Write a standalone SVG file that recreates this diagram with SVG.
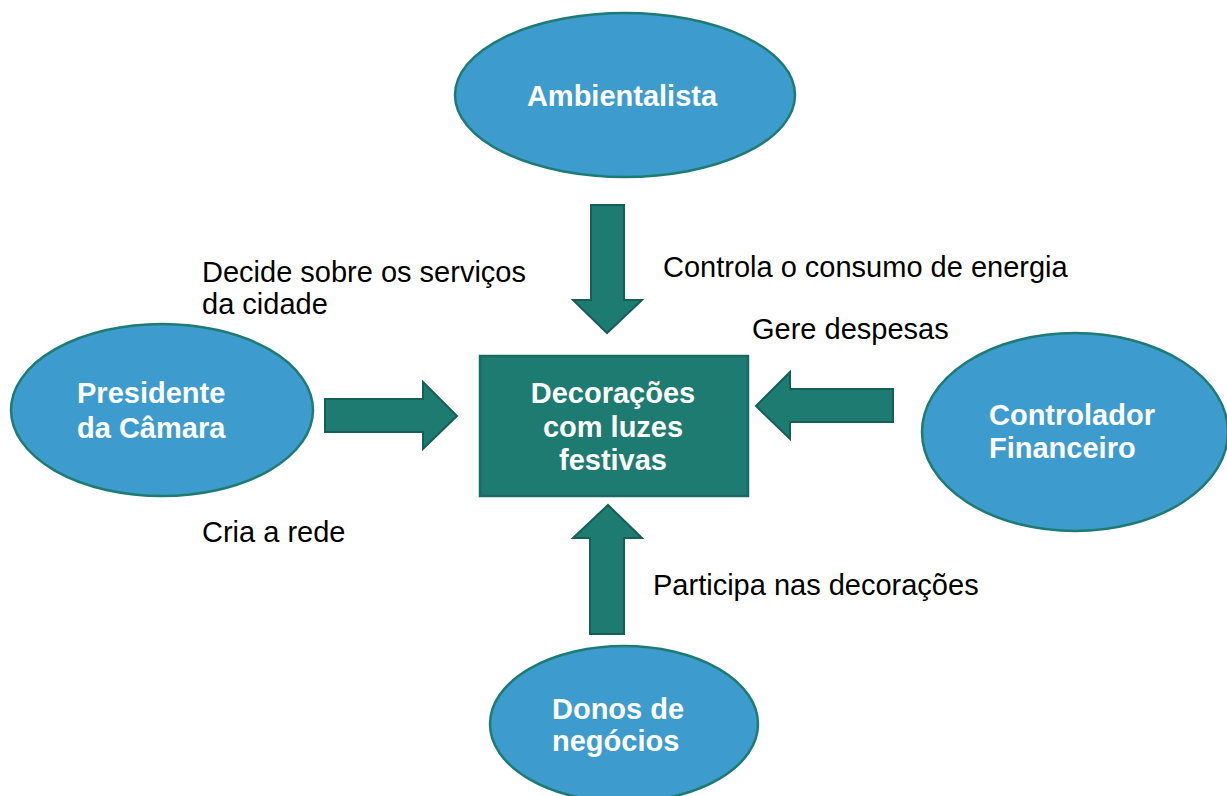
<svg xmlns="http://www.w3.org/2000/svg" width="1227" height="796" viewBox="0 0 1227 796">
<style>
.node{fill:#3D9CCD;stroke:#1E7B72;stroke-width:2.5}
.box{fill:#1E7B72;stroke:#196A61;stroke-width:2.5}
.arr{fill:#1E7B72;stroke:#175E57;stroke-width:2}
.nt{font-family:"Liberation Sans",Arial,sans-serif;font-size:29px;font-weight:bold;fill:#FFFFFF}
.lb{font-family:"Liberation Sans",Arial,sans-serif;font-size:29px;fill:#000000}
</style>
<rect width="1227" height="796" fill="#FFFFFF"/>
<g id="connectors">
<polygon class="arr" points="591,205 624,205 624,300 642,300 607,333 573,300 591,300"/>
<polygon class="arr" points="325,399 423,399 423,382 457,416 423,449 423,432 325,432"/>
<polygon class="arr" points="893,389 790,389 790,372 756,406 790,439 790,422 893,422"/>
<polygon class="arr" points="590,634 624,634 624,538 642,538 608,505 573,538 590,538"/>
</g>
<g id="labels">
<text class="lb" x="202" y="282">Decide sobre os serviços</text>
<text class="lb" x="202" y="314">da cidade</text>
<text class="lb" x="663" y="277">Controla o consumo de energia</text>
<text class="lb" x="752" y="339">Gere despesas</text>
<text class="lb" x="202" y="542">Cria a rede</text>
<text class="lb" x="653" y="595">Participa nas decorações</text>
</g>
<g id="ambientalista">
<ellipse class="node" cx="625" cy="95" rx="170" ry="82"/>
<text class="nt" x="622" y="106" text-anchor="middle">Ambientalista</text>
</g>
<g id="presidente">
<ellipse class="node" cx="162" cy="410" rx="151" ry="86"/>
<text class="nt" x="77" y="403">Presidente</text>
<text class="nt" x="77" y="438">da Câmara</text>
</g>
<g id="decoracoes">
<rect class="box" x="480" y="356" width="268" height="140"/>
<text class="nt" x="613" y="403" text-anchor="middle">Decorações</text>
<text class="nt" x="613" y="437" text-anchor="middle">com luzes</text>
<text class="nt" x="613" y="470" text-anchor="middle">festivas</text>
</g>
<g id="controlador">
<ellipse class="node" cx="1075" cy="432" rx="153" ry="99"/>
<text class="nt" x="989" y="425">Controlador</text>
<text class="nt" x="989" y="458">Financeiro</text>
</g>
<g id="donos">
<ellipse class="node" cx="624" cy="724" rx="134" ry="78"/>
<text class="nt" x="552" y="719">Donos de</text>
<text class="nt" x="552" y="751">negócios</text>
</g>
</svg>
